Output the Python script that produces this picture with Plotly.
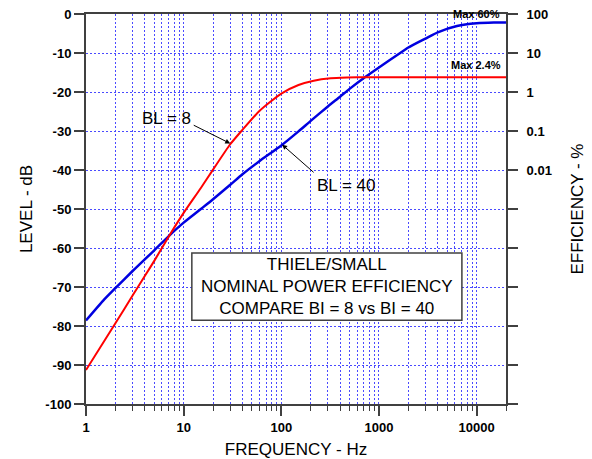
import plotly.graph_objects as go
import math

# ---- data ----
freq_bl40 = [1, 1.5, 2, 3, 4, 5, 7, 10, 15, 20, 30, 40, 60, 100, 150, 200, 300, 400, 500,
             730, 1000, 1650, 2000, 3000, 4000, 6300, 10000, 15000, 20000]
level_bl40 = [-78.6, -73.5, -70.3, -65.9, -62.9, -60.6, -57.0, -53.5, -50.0, -47.5, -43.8,
              -41.1, -37.7, -33.7, -30.1, -27.4, -23.7, -21.2, -19.2, -16.1, -13.7, -10.0,
              -8.6, -6.3, -4.7, -3.1, -2.4, -2.2, -2.2]

freq_bl8 = [1, 2, 3, 4, 5, 7.3, 10, 15, 20, 30, 40, 60, 100, 150, 215, 320, 470, 750,
            1500, 5000, 20000]
level_bl8 = [-91.3, -79.3, -72.2, -67.2, -63.3, -56.4, -51.0, -44.6, -39.9, -33.4, -29.7,
             -24.8, -20.4, -18.2, -17.1, -16.5, -16.3, -16.2, -16.2, -16.2, -16.2]

level_ticks = [0, -10, -20, -30, -40, -50, -60, -70, -80, -90, -100]
level_ticklabels = ["0", "-10", "-20", "-30", "-40", "-50", "-60", "-70", "-80", "-90", "-100"]
eff_ticklabels = ["100", "10", "1", "0.1", "0.01", "", "", "", "", "", ""]
freq_ticks = [1, 10, 100, 1000, 10000]
freq_ticklabels = ["1", "10", "100", "1000", "10000"]
freq_minor = [m * d for d in [1, 10, 100, 1000] for m in range(2, 10)] + [20000]

FONT = "Arial, Liberation Sans, sans-serif"
GRID = "#4a4aff"
AXIS = "#404040"

fig = go.Figure()
fig.add_trace(go.Scatter(x=freq_bl40, y=level_bl40, mode="lines",
                         line=dict(color="#0000e0", width=2.5, shape="spline", smoothing=0.6),
                         showlegend=False, hoverinfo="skip"))
# BL = 8 drawn against the right-hand axis (same -100..0 dB span, labelled as efficiency)
fig.add_trace(go.Scatter(x=freq_bl8, y=level_bl8, mode="lines", yaxis="y2",
                         line=dict(color="#ff0000", width=2, shape="spline", smoothing=0.6),
                         showlegend=False, hoverinfo="skip"))

fig.update_layout(
    width=592, height=459,
    margin=dict(l=78, r=94, t=6, b=63),
    paper_bgcolor="white", plot_bgcolor="white",
    font=dict(family=FONT, color="black"),
    xaxis=dict(
        type="log", range=[0, math.log10(20000)], automargin=False,
        tickvals=freq_ticks, ticktext=freq_ticklabels,
        tickfont=dict(size=13, weight="bold", family=FONT),
        ticks="outside", ticklen=10, tickwidth=1.5, tickcolor=AXIS,
        showline=True, linecolor=AXIS, linewidth=2, mirror=True,
        showgrid=True, gridcolor=GRID, gridwidth=1, griddash="2px,2px",
        minor=dict(tickvals=freq_minor, ticks="outside", ticklen=5, tickcolor=AXIS, tickwidth=1,
                   showgrid=True, gridcolor=GRID, gridwidth=1, griddash="2px,2px"),
        title=dict(text="FREQUENCY - Hz", font=dict(size=17, family=FONT), standoff=10),
        zeroline=False, ticklabeloverflow="allow",
    ),
    yaxis=dict(
        range=[-100, 0], automargin=False,
        tickvals=level_ticks, ticktext=level_ticklabels,
        tickfont=dict(size=13, weight="bold", family=FONT),
        ticks="outside", ticklen=10, tickwidth=1.5, tickcolor=AXIS,
        showline=True, linecolor=AXIS, linewidth=2, mirror=True,
        showgrid=True, gridcolor=GRID, gridwidth=1, griddash="2px,2px",
        title=dict(text="LEVEL - dB", font=dict(size=17, family=FONT), standoff=8),
        zeroline=False, ticklabeloverflow="allow",
    ),
    yaxis2=dict(
        overlaying="y", side="right", range=[-100, 0], automargin=False,
        tickvals=level_ticks, ticktext=eff_ticklabels,
        tickfont=dict(size=13, weight="bold", family=FONT),
        ticks="outside", ticklen=10, tickwidth=1.5, tickcolor=AXIS,
        ticklabelstandoff=6,
        showline=True, linecolor=AXIS, linewidth=2,
        showgrid=False, zeroline=False, ticklabeloverflow="allow",
        title=dict(text="EFFICIENCY - %", font=dict(size=17, family=FONT), standoff=20),
    ),
)

# explanatory box
fig.add_shape(type="rect", xref="paper", yref="paper",
              x0=0.252, x1=0.895, y0=0.215, y1=0.387,
              fillcolor="white", line=dict(color=AXIS, width=1.5), layer="above")
fig.add_annotation(xref="paper", yref="paper", x=0.574, y=0.302,
                   text="THIELE/SMALL<br>NOMINAL POWER EFFICIENCY<br>COMPARE BI = 8 vs BI = 40",
                   showarrow=False, font=dict(size=17, family=FONT, color="black"),
                   align="center", xanchor="center", yanchor="middle")

# curve labels with arrows
fig.add_annotation(x=0.8205, y=-26.7, text="BL = 8", showarrow=False,
                   font=dict(size=17, family=FONT, color="black"))
fig.add_annotation(x=math.log10(30), y=-33.2, text="", showarrow=True,
                   ax=-38, ay=-19, arrowhead=2, arrowsize=1, arrowwidth=1, arrowcolor="black")
fig.add_annotation(x=2.667, y=-44.1, text="BL = 40", showarrow=False,
                   font=dict(size=17, family=FONT, color="black"))
fig.add_annotation(x=math.log10(102), y=-33.5, text="", showarrow=True,
                   ax=33, ay=29, arrowhead=2, arrowsize=1, arrowwidth=1, arrowcolor="black")

# max labels
fig.add_annotation(xref="paper", x=0.99, y=0, text="Max 60%", showarrow=False,
                   xanchor="right", yanchor="middle",
                   font=dict(size=11, family=FONT, color="black", weight="bold"))
fig.add_annotation(xref="paper", x=0.993, y=-13.1, text="Max 2.4%", showarrow=False,
                   xanchor="right", yanchor="middle",
                   font=dict(size=11, family=FONT, color="black", weight="bold"))

fig.write_html("out.html")
